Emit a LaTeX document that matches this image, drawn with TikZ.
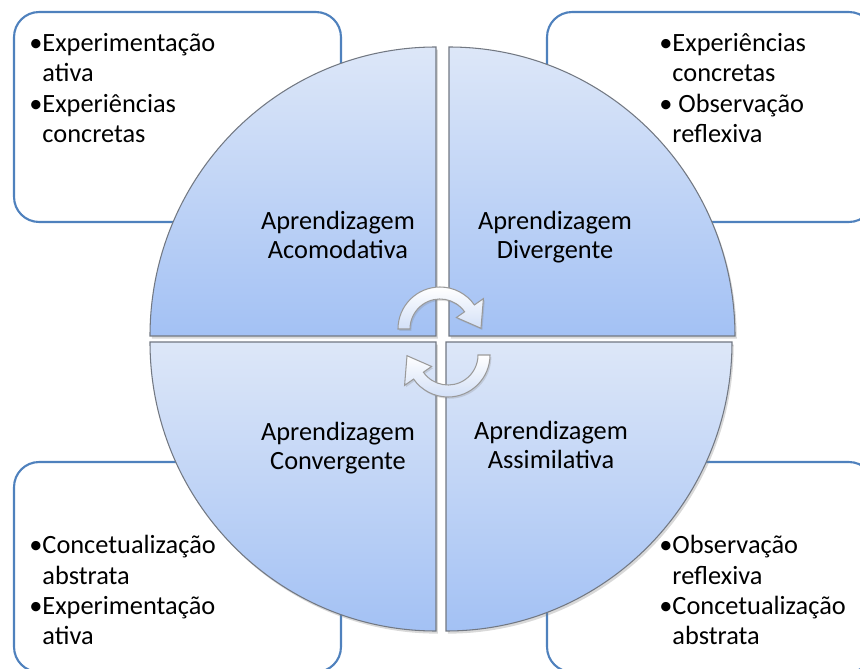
\documentclass[tikz,border=0pt]{standalone}
\usepackage{fontspec}
\setmainfont{Carlito}
\usepackage{tikz}
\usetikzlibrary{positioning, shadows}

\begin{document}
\begin{tikzpicture}[
    x=0.02cm, y=-0.02cm,
    notebox/.style={rectangle, rounded corners=0.5cm, draw=boxborder, fill=white,
        line width=1.2pt, minimum width=6.54cm, minimum height=4.2cm},
    itemtext/.style={font=\fontsize{15}{17.3}\selectfont, align=left,
        inner sep=0pt, anchor=north west},
    quadlabel/.style={font=\fontsize{15}{16.6}\selectfont, align=center, inner sep=0pt},
    quadrant/.style={draw=quadedge, line width=0.6pt, top color=quadlight, bottom color=quaddark,
        drop shadow={opacity=0.3, shadow xshift=1pt, shadow yshift=-1.5pt}},
    cyclearrow/.style={draw=arrowedge, line width=0.6pt, top color=white, bottom color=arrowfill,
        drop shadow={opacity=0.25, shadow xshift=0.8pt, shadow yshift=-1pt}},
]

% ── Colors ──
\definecolor{boxborder}{HTML}{4F81BD}
\definecolor{quadlight}{HTML}{DDE7F8}
\definecolor{quaddark}{HTML}{A3C1F4}
\definecolor{quadedge}{HTML}{727882}
\definecolor{arrowedge}{HTML}{9A9A9A}
\definecolor{arrowfill}{HTML}{D3E0F7}

\useasboundingbox (0,0) rectangle (860,669);
\clip (0,0) rectangle (860,669);

% ══════════════════════════════════════════════
% Corner boxes
% ══════════════════════════════════════════════
\node[notebox] (boxtl) at (177.5,117) {};
\node[notebox] (boxtr) at (710.5,117) {};
\node[notebox] (boxbl) at (177.5,567) {};
\node[notebox] (boxbr) at (710.5,567) {};

\node[itemtext] (texttl) at (29,33)
    {\textbullet Experimentação\\\phantom{\textbullet}ativa\\
     \textbullet Experiências\\\phantom{\textbullet}concretas};
\node[itemtext] (texttr) at (659,33)
    {\textbullet Experiências\\\phantom{\textbullet}concretas\\
     \textbullet\ Observação\\\phantom{\textbullet}reflexiva};
\node[itemtext] (textbl) at (29,535)
    {\textbullet Concetualização\\\phantom{\textbullet}abstrata\\
     \textbullet Experimentação\\\phantom{\textbullet}ativa};
\node[itemtext] (textbr) at (659,535)
    {\textbullet Observação\\\phantom{\textbullet}reflexiva\\
     \textbullet Concetualização\\\phantom{\textbullet}abstrata};

% ══════════════════════════════════════════════
% Circle in four quadrants
% ══════════════════════════════════════════════
\path[quadrant] (436,336) -- (150,336)
    arc[start angle=180, end angle=270, x radius=286, y radius=289] -- cycle;
\path[quadrant] (449,336) -- (449,47)
    arc[start angle=270, end angle=360, x radius=286, y radius=289] -- cycle;
\path[quadrant] (436,342) -- (436,631)
    arc[start angle=90, end angle=180, x radius=286, y radius=289] -- cycle;
\path[quadrant] (446,342) -- (732,342)
    arc[start angle=0, end angle=90, x radius=286, y radius=289] -- cycle;

\node[quadlabel] (accom) at (338,235) {Aprendizagem\\Acomodativa};
\node[quadlabel] (diverg) at (555,237) {Aprendizagem\\Divergente};
\node[quadlabel] (converg) at (338,448) {Aprendizagem\\Convergente};
\node[quadlabel] (assim) at (551,445) {Aprendizagem\\Assimilativa};

% ══════════════════════════════════════════════
% Cycle arrows in the middle
% ══════════════════════════════════════════════
\path[cyclearrow, shift={(440,329)}] (180:42)
    arc[start angle=180, end angle=325, radius=42] -- (325:53) -- (359:41)
    -- (325:20) -- (325:30) arc[start angle=325, end angle=180, radius=30] -- cycle;
\path[cyclearrow, shift={(448,355)}] (0:42)
    arc[start angle=0, end angle=145, radius=42] -- (145:53) -- (179:41)
    -- (145:20) -- (145:30) arc[start angle=145, end angle=0, radius=30] -- cycle;

\end{tikzpicture}
\end{document}
